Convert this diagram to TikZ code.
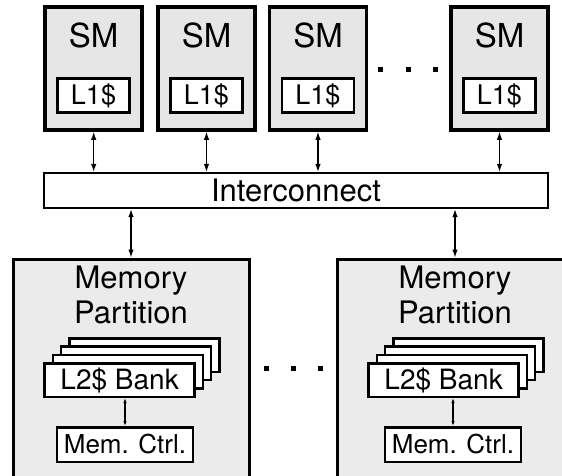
\documentclass[tikz,border=0pt]{standalone}
\usepackage{fontspec}
\setmainfont{TeX Gyre Heros}
\usetikzlibrary{arrows.meta}
\definecolor{smgray}{RGB}{230,230,230}
\definecolor{mpgray}{RGB}{235,235,235}

\begin{document}
\begin{tikzpicture}[x=1pt,y=-1pt,
    smbox/.style={draw=black,fill=smgray,line width=3.5pt,minimum width=97pt,minimum height=123pt,inner sep=0pt},
    l1box/.style={draw=black,fill=white,line width=2.5pt,minimum width=72pt,minimum height=34pt,inner sep=0pt,font=\fontsize{27}{27}\selectfont},
    icbox/.style={draw=black,fill=white,line width=2.2pt,minimum width=504pt,minimum height=35pt,inner sep=0pt,font=\fontsize{31}{31}\selectfont},
    mpbox/.style={draw=black,fill=mpgray,line width=3pt,minimum width=236pt,minimum height=231pt,inner sep=0pt},
    l2box/.style={draw=black,fill=white,line width=2.5pt,minimum width=150pt,minimum height=33.5pt,inner sep=0pt,font=\fontsize{28}{28}\selectfont},
    mcbox/.style={draw=black,fill=white,line width=2.5pt,minimum width=136pt,minimum height=34.5pt,inner sep=0pt,font=\fontsize{26}{26}\selectfont},
    bigtext/.style={anchor=base,inner sep=0pt,font=\fontsize{33}{33}\selectfont},
    mptext/.style={anchor=base,inner sep=0pt,font=\fontsize{31}{31}\selectfont},
    sqdot/.style={fill=black,minimum size=5pt,inner sep=0pt},
    link/.style={arrows={Latex[length=8pt,width=5.5pt]-Latex[length=8pt,width=5.5pt]},line width=1.2pt},
    minilink/.style={arrows={Latex[length=5pt,width=3.5pt]-Latex[length=5pt,width=3.5pt]},line width=1.2pt}]
      \clip (0,0) rectangle (562,475);

      \node[smbox] (sm1) at (93.7,68.5) {};
      \node[smbox] (sm2) at (206.5,68.5) {};
      \node[smbox] (sm3) at (318,68.5) {};
      \node[smbox] (sm4) at (499.5,68.5) {};

      \node[bigtext] (sm1t) at (93.7,47) {SM};
      \node[bigtext] (sm2t) at (206.5,47) {SM};
      \node[bigtext] (sm3t) at (318,47) {SM};
      \node[bigtext] (sm4t) at (499.5,47) {SM};

      \node[l1box] (l1a) at (93.5,95.5) {L1\$};
      \node[l1box] (l1b) at (206.3,95.5) {L1\$};
      \node[l1box] (l1c) at (317.8,95.5) {L1\$};
      \node[l1box] (l1d) at (499.3,95.5) {L1\$};

      \node[sqdot] (d1) at (380,69) {};
      \node[sqdot] (d2) at (408,69) {};
      \node[sqdot] (d3) at (435,69) {};

      \node[icbox] (ic) at (296,190.5) {Interconnect};

      \draw[link] (sm1.south) to (sm1.south |- ic.north);
      \draw[link] (sm2.south) to (sm2.south |- ic.north);
      \draw[link] (sm3.south) to (sm3.south |- ic.north);
      \draw[link] (sm4.south) to (sm4.south |- ic.north);

      \node[mpbox] (mp1) at (131,374.5) {};
      \node[mpbox] (mp2) at (455,374.5) {};

      \draw[link] (ic.south -| mp1.north) to (mp1.north);
      \draw[link] (ic.south -| mp2.north) to (mp2.north);

      \node[mptext] (mp1a) at (131,288) {Memory};
      \node[mptext] (mp1b) at (131,323) {Partition};
      \node[mptext] (mp2a) at (455,288) {Memory};
      \node[mptext] (mp2b) at (455,323) {Partition};

      \node[l2box] (l2a4) at (144.5,355) {};
      \node[l2box] (l2a3) at (136.2,363.3) {};
      \node[l2box] (l2a2) at (127.9,371.6) {};
      \node[l2box] (l2a1) at (119.6,380) {L2\$ Bank};

      \node[l2box] (l2b4) at (468.5,355) {};
      \node[l2box] (l2b3) at (460.2,363.3) {};
      \node[l2box] (l2b2) at (451.9,371.6) {};
      \node[l2box] (l2b1) at (443.6,380) {L2\$ Bank};

      \node[mcbox] (mc1) at (125,444.5) {Mem. Ctrl.};
      \node[mcbox] (mc2) at (453,444.5) {Mem. Ctrl.};

      \draw[minilink] (mc1.north |- l2a1.south) to (mc1.north);
      \draw[minilink] (mc2.north |- l2b1.south) to (mc2.north);

      \node[sqdot] (d4) at (266,368) {};
      \node[sqdot] (d5) at (293,368) {};
      \node[sqdot] (d6) at (320,368) {};
    \end{tikzpicture}
\end{document}
